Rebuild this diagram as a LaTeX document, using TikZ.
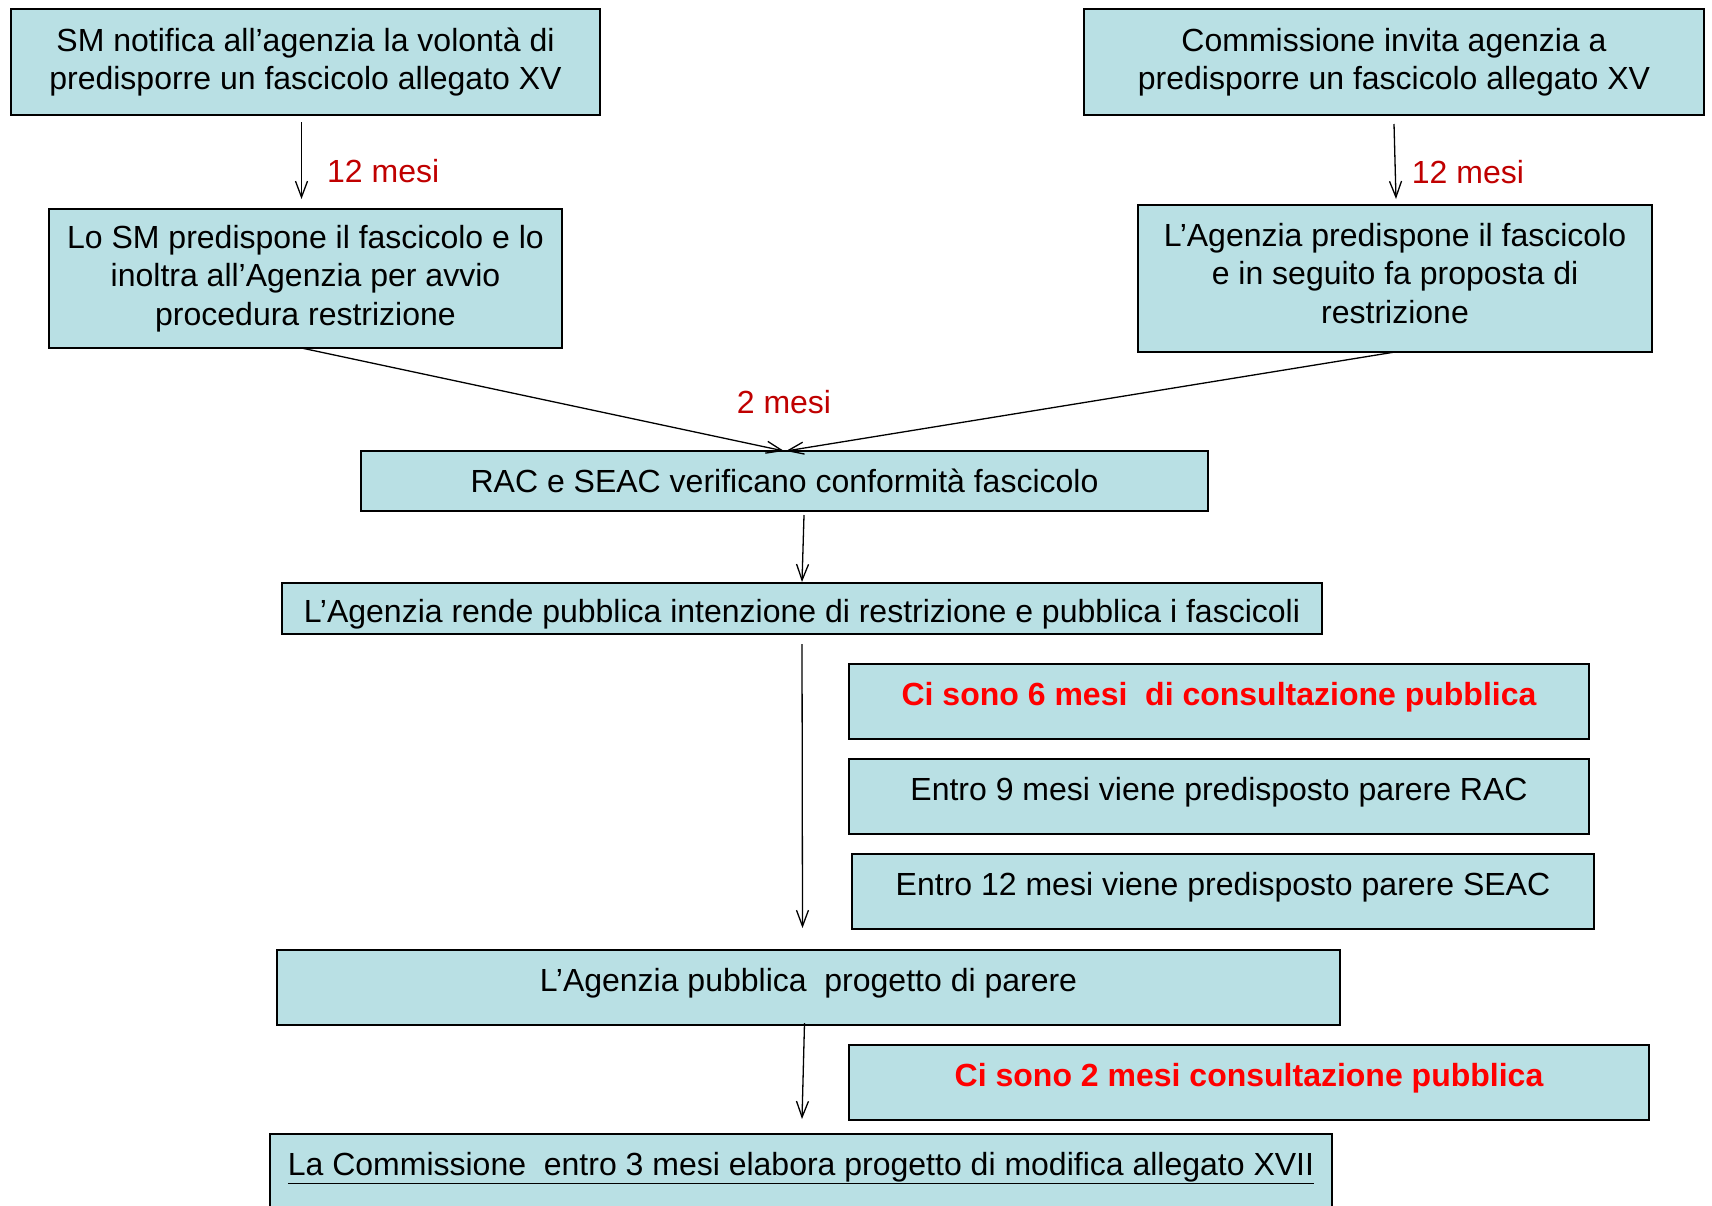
\documentclass[tikz,border=0pt]{standalone}
\usepackage{fontspec}
\setmainfont{Liberation Sans}
\usetikzlibrary{arrows.meta}
\definecolor{boxfill}{RGB}{185,224,228}
\definecolor{darkred}{RGB}{192,0,0}
\definecolor{brightred}{RGB}{255,0,0}
\begin{document}
\begin{tikzpicture}[x=1pt,y=-1pt,
  box/.style={draw=black, line width=1.6pt, fill=boxfill, rectangle, anchor=north west,
    inner sep=0pt, outer sep=0pt, align=center, font=\fontsize{32}{38.5}\selectfont},
  boxtext/.style={inner sep=0pt, align=center, font=\fontsize{32}{38.5}\selectfont},
  upper/.style={text height=23.5pt, text depth=15pt},
  arr/.style={-{Straight Barb[length=16pt,width=12pt]}, line width=1.3pt},
  tlabel/.style={text=darkred, font=\fontsize{32}{38}\selectfont, inner sep=0pt},
]
\useasboundingbox (0,0) rectangle (1712,1205);
\fill[white] (0,0) rectangle (1712,1205);

\node[box, minimum width=589pt, minimum height=106pt] (b1) at (11,9)
  {SM notifica all’agenzia la volontà di\\predisporre un fascicolo allegato XV};
\node[box, minimum width=620pt, minimum height=106pt] (b2) at (1084,9)
  {Commissione invita agenzia a\\predisporre un fascicolo allegato XV};
\node[box, minimum width=513pt, minimum height=139pt] (b3) at (49,209)
  {Lo SM predispone il fascicolo e lo\\inoltra all’Agenzia per avvio\\procedura restrizione};
\node[box, minimum width=514pt, minimum height=147pt,
  label={[boxtext, name=t4, yshift=5pt]center:L’Agenzia predispone il fascicolo\\e in seguito fa proposta di\\restrizione}] (b4) at (1138,205) {};
\node[box, minimum width=847pt, minimum height=60pt] (b5) at (361,451)
  {RAC e SEAC verificano conformità fascicolo};
\node[box, text height=35pt, text depth=7pt, minimum width=1040pt, minimum height=51pt] (b6) at (282,583)
  {L’Agenzia rende pubblica intenzione di restrizione e pubblica i fascicoli};
\node[box, upper, minimum width=740pt, minimum height=75pt] (b7) at (849,664)
  {\textcolor{brightred}{\bfseries Ci sono 6 mesi\ \ di consultazione pubblica}};
\node[box, upper, minimum width=740pt, minimum height=75pt] (b8) at (849,759)
  {Entro 9 mesi viene predisposto parere RAC};
\node[box, upper, minimum width=742pt, minimum height=75pt] (b9) at (852,854)
  {Entro 12 mesi viene predisposto parere SEAC};
\node[box, upper, minimum width=1063pt, minimum height=75pt] (b10) at (277,950)
  {L’Agenzia pubblica\ \ progetto di parere};
\node[box, upper, minimum width=800pt, minimum height=75pt] (b11) at (849,1045)
  {\textcolor{brightred}{\bfseries Ci sono 2 mesi consultazione pubblica}};
\node[box, text height=23.5pt, text depth=31.5pt, minimum width=1062pt, minimum height=90pt] (b12) at (270,1134)
  {\underline{La Commissione\ \ entro 3 mesi elabora progetto di modifica allegato XVII}};

\draw[arr] ([shift={(-4,7)}]b1.south) -- ([shift={(-4,-10)}]b3.north)
  node[tlabel, pos=0.64, right=25pt] (l1) {12 mesi};
\draw[arr] ([shift={(0,9)}]b2.south) -- ([shift={(1,-6)}]b4.north)
  node[tlabel, pos=0.64, right=16pt] (l2) {12 mesi};
\coordinate (m) at ([xshift=0.5]b5.north);
\draw[arr] ([xshift=-4]b3.south) -- ([xshift=-1]m);
\draw[arr] (b4.south) -- ([xshift=1]m);
\node[tlabel] (l3) at (784,402) {2 mesi};
\draw[arr] ([shift={(19.5,4)}]b5.south) -- ([shift={(0,-1)}]b6.north);
\draw[arr] ([shift={(0,10)}]b6.south) -- ([shift={(-6,-22)}]b10.north);
\draw[arr] ([shift={(-4,-2)}]b10.south) -- ([shift={(1,-15)}]b12.north);
\end{tikzpicture}
\end{document}
